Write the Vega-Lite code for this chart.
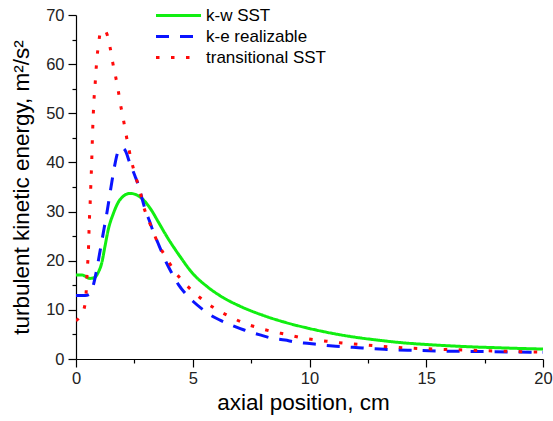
{
  "$schema": "https://vega.github.io/schema/vega-lite/v6.json",
  "autosize": "none",
  "width": 467,
  "height": 344,
  "padding": {"left": 76, "top": 15, "right": 10, "bottom": 62},
  "background": "white",
  "config": {
    "view": {"stroke": null},
    "font": "Liberation Sans",
    "axis": {
      "grid": false,
      "domainColor": "black",
      "domainWidth": 1.2,
      "tickColor": "black",
      "tickWidth": 1.2,
      "labelColor": "#222222",
      "labelFont": "Liberation Sans",
      "labelFontSize": 16.5,
      "titleFont": "Liberation Sans",
      "titleFontSize": 22.5,
      "titleFontWeight": "normal",
      "titleColor": "black"
    },
    "legend": {
      "labelFont": "Liberation Sans",
      "labelFontSize": 17,
      "labelColor": "black"
    }
  },
  "data": {
    "values": [
      {"x": 0, "y": 17.1, "model": "k-w SST"},
      {"x": 0.25, "y": 17.1, "model": "k-w SST"},
      {"x": 0.6, "y": 16.4, "model": "k-w SST"},
      {"x": 0.8, "y": 16.6, "model": "k-w SST"},
      {"x": 0.95, "y": 17.6, "model": "k-w SST"},
      {"x": 1.1, "y": 19.5, "model": "k-w SST"},
      {"x": 1.24, "y": 22.9, "model": "k-w SST"},
      {"x": 1.38, "y": 26.3, "model": "k-w SST"},
      {"x": 1.6, "y": 29.6, "model": "k-w SST"},
      {"x": 1.88, "y": 32.4, "model": "k-w SST"},
      {"x": 2.31, "y": 33.7, "model": "k-w SST"},
      {"x": 2.67, "y": 33.2, "model": "k-w SST"},
      {"x": 3.2, "y": 30.5, "model": "k-w SST"},
      {"x": 3.5, "y": 28.1, "model": "k-w SST"},
      {"x": 3.88, "y": 25.0, "model": "k-w SST"},
      {"x": 4.45, "y": 20.9, "model": "k-w SST"},
      {"x": 5.0, "y": 17.4, "model": "k-w SST"},
      {"x": 5.6, "y": 14.8, "model": "k-w SST"},
      {"x": 6.3, "y": 12.5, "model": "k-w SST"},
      {"x": 7.0, "y": 10.8, "model": "k-w SST"},
      {"x": 8.0, "y": 8.9, "model": "k-w SST"},
      {"x": 9.0, "y": 7.4, "model": "k-w SST"},
      {"x": 10.0, "y": 6.2, "model": "k-w SST"},
      {"x": 11.0, "y": 5.2, "model": "k-w SST"},
      {"x": 12.0, "y": 4.4, "model": "k-w SST"},
      {"x": 13.0, "y": 3.8, "model": "k-w SST"},
      {"x": 14.0, "y": 3.3, "model": "k-w SST"},
      {"x": 15.0, "y": 2.95, "model": "k-w SST"},
      {"x": 16.0, "y": 2.68, "model": "k-w SST"},
      {"x": 17.0, "y": 2.46, "model": "k-w SST"},
      {"x": 18.0, "y": 2.3, "model": "k-w SST"},
      {"x": 19.0, "y": 2.15, "model": "k-w SST"},
      {"x": 20, "y": 2.03, "model": "k-w SST"},

      {"x": 0, "y": 12.9, "model": "k-e realizable"},
      {"x": 0.39, "y": 12.9, "model": "k-e realizable"},
      {"x": 0.55, "y": 13.1, "model": "k-e realizable"},
      {"x": 0.74, "y": 15.0, "model": "k-e realizable"},
      {"x": 0.9, "y": 18.5, "model": "k-e realizable"},
      {"x": 1.05, "y": 22.5, "model": "k-e realizable"},
      {"x": 1.2, "y": 26.5, "model": "k-e realizable"},
      {"x": 1.35, "y": 30.5, "model": "k-e realizable"},
      {"x": 1.5, "y": 35.0, "model": "k-e realizable"},
      {"x": 1.65, "y": 39.2, "model": "k-e realizable"},
      {"x": 1.8, "y": 42.2, "model": "k-e realizable"},
      {"x": 1.95, "y": 43.0, "model": "k-e realizable"},
      {"x": 2.1, "y": 42.5, "model": "k-e realizable"},
      {"x": 2.31, "y": 39.8, "model": "k-e realizable"},
      {"x": 2.53, "y": 37.2, "model": "k-e realizable"},
      {"x": 2.67, "y": 35.4, "model": "k-e realizable"},
      {"x": 2.81, "y": 33.0, "model": "k-e realizable"},
      {"x": 2.95, "y": 30.6, "model": "k-e realizable"},
      {"x": 3.17, "y": 27.8, "model": "k-e realizable"},
      {"x": 3.31, "y": 25.9, "model": "k-e realizable"},
      {"x": 3.52, "y": 23.5, "model": "k-e realizable"},
      {"x": 3.67, "y": 21.8, "model": "k-e realizable"},
      {"x": 3.88, "y": 19.5, "model": "k-e realizable"},
      {"x": 4.1, "y": 17.5, "model": "k-e realizable"},
      {"x": 4.38, "y": 15.2, "model": "k-e realizable"},
      {"x": 4.67, "y": 13.4, "model": "k-e realizable"},
      {"x": 5.02, "y": 11.7, "model": "k-e realizable"},
      {"x": 5.45, "y": 10.0, "model": "k-e realizable"},
      {"x": 5.88, "y": 8.6, "model": "k-e realizable"},
      {"x": 6.17, "y": 7.9, "model": "k-e realizable"},
      {"x": 6.6, "y": 7.0, "model": "k-e realizable"},
      {"x": 7.2, "y": 5.9, "model": "k-e realizable"},
      {"x": 7.88, "y": 4.9, "model": "k-e realizable"},
      {"x": 8.38, "y": 4.25, "model": "k-e realizable"},
      {"x": 8.95, "y": 3.85, "model": "k-e realizable"},
      {"x": 9.38, "y": 3.45, "model": "k-e realizable"},
      {"x": 10.0, "y": 3.15, "model": "k-e realizable"},
      {"x": 10.45, "y": 2.9, "model": "k-e realizable"},
      {"x": 11.0, "y": 2.65, "model": "k-e realizable"},
      {"x": 11.5, "y": 2.5, "model": "k-e realizable"},
      {"x": 12.1, "y": 2.3, "model": "k-e realizable"},
      {"x": 12.5, "y": 2.17, "model": "k-e realizable"},
      {"x": 13.2, "y": 1.97, "model": "k-e realizable"},
      {"x": 13.6, "y": 1.87, "model": "k-e realizable"},
      {"x": 14.45, "y": 1.78, "model": "k-e realizable"},
      {"x": 15.52, "y": 1.63, "model": "k-e realizable"},
      {"x": 16.59, "y": 1.56, "model": "k-e realizable"},
      {"x": 17.62, "y": 1.49, "model": "k-e realizable"},
      {"x": 18.69, "y": 1.42, "model": "k-e realizable"},
      {"x": 20, "y": 1.35, "model": "k-e realizable"},

      {"x": 0, "y": 7.8, "model": "transitional SST"},
      {"x": 0.2, "y": 8.8, "model": "transitional SST"},
      {"x": 0.36, "y": 10.5, "model": "transitional SST"},
      {"x": 0.43, "y": 13.2, "model": "transitional SST"},
      {"x": 0.46, "y": 16.1, "model": "transitional SST"},
      {"x": 0.49, "y": 18.8, "model": "transitional SST"},
      {"x": 0.53, "y": 21.8, "model": "transitional SST"},
      {"x": 0.55, "y": 24.9, "model": "transitional SST"},
      {"x": 0.57, "y": 27.9, "model": "transitional SST"},
      {"x": 0.6, "y": 31.0, "model": "transitional SST"},
      {"x": 0.63, "y": 34.7, "model": "transitional SST"},
      {"x": 0.67, "y": 39.8, "model": "transitional SST"},
      {"x": 0.71, "y": 46.0, "model": "transitional SST"},
      {"x": 0.76, "y": 51.9, "model": "transitional SST"},
      {"x": 0.82, "y": 56.0, "model": "transitional SST"},
      {"x": 0.89, "y": 60.8, "model": "transitional SST"},
      {"x": 0.96, "y": 63.9, "model": "transitional SST"},
      {"x": 1.05, "y": 66.5, "model": "transitional SST"},
      {"x": 1.18, "y": 67.0, "model": "transitional SST"},
      {"x": 1.31, "y": 66.3, "model": "transitional SST"},
      {"x": 1.46, "y": 63.4, "model": "transitional SST"},
      {"x": 1.57, "y": 60.4, "model": "transitional SST"},
      {"x": 1.7, "y": 57.4, "model": "transitional SST"},
      {"x": 1.81, "y": 54.6, "model": "transitional SST"},
      {"x": 1.91, "y": 51.7, "model": "transitional SST"},
      {"x": 2.02, "y": 49.0, "model": "transitional SST"},
      {"x": 2.14, "y": 45.8, "model": "transitional SST"},
      {"x": 2.38, "y": 40.2, "model": "transitional SST"},
      {"x": 2.6, "y": 36.4, "model": "transitional SST"},
      {"x": 2.74, "y": 34.2, "model": "transitional SST"},
      {"x": 2.88, "y": 31.3, "model": "transitional SST"},
      {"x": 3.1, "y": 28.4, "model": "transitional SST"},
      {"x": 3.31, "y": 25.8, "model": "transitional SST"},
      {"x": 3.55, "y": 23.2, "model": "transitional SST"},
      {"x": 3.88, "y": 20.5, "model": "transitional SST"},
      {"x": 4.2, "y": 18.0, "model": "transitional SST"},
      {"x": 4.6, "y": 15.7, "model": "transitional SST"},
      {"x": 5.02, "y": 13.7, "model": "transitional SST"},
      {"x": 5.52, "y": 11.7, "model": "transitional SST"},
      {"x": 6.05, "y": 10.0, "model": "transitional SST"},
      {"x": 6.6, "y": 8.6, "model": "transitional SST"},
      {"x": 7.2, "y": 7.3, "model": "transitional SST"},
      {"x": 7.88, "y": 6.25, "model": "transitional SST"},
      {"x": 8.42, "y": 5.56, "model": "transitional SST"},
      {"x": 9.02, "y": 5.0, "model": "transitional SST"},
      {"x": 9.64, "y": 4.34, "model": "transitional SST"},
      {"x": 10.28, "y": 3.87, "model": "transitional SST"},
      {"x": 10.88, "y": 3.53, "model": "transitional SST"},
      {"x": 11.52, "y": 3.19, "model": "transitional SST"},
      {"x": 12.13, "y": 2.98, "model": "transitional SST"},
      {"x": 12.78, "y": 2.71, "model": "transitional SST"},
      {"x": 13.37, "y": 2.5, "model": "transitional SST"},
      {"x": 14.02, "y": 2.3, "model": "transitional SST"},
      {"x": 15.3, "y": 2.03, "model": "transitional SST"},
      {"x": 16.59, "y": 1.83, "model": "transitional SST"},
      {"x": 17.87, "y": 1.63, "model": "transitional SST"},
      {"x": 19.09, "y": 1.49, "model": "transitional SST"},
      {"x": 20, "y": 1.42, "model": "transitional SST"}
    ]
  },
  "mark": {"type": "line", "strokeWidth": 3, "interpolate": "monotone", "clip": true},
  "encoding": {
    "x": {
      "field": "x",
      "type": "quantitative",
      "scale": {"domain": [0, 20], "nice": false, "zero": false},
      "axis": {
        "title": "axial position, cm",
        "values": [0, 2.5, 5, 7.5, 10, 12.5, 15, 17.5, 20],
        "labelExpr": "datum.value % 5 == 0 ? datum.label : ''",
        "tickSize": {"condition": {"test": "datum.value % 5 == 0", "value": 8}, "value": 4},
        "labelPadding": 3,
        "titlePadding": 5,
        "titleX": 227,
        "labelFlush": false
      }
    },
    "y": {
      "field": "y",
      "type": "quantitative",
      "scale": {"domain": [0, 70], "nice": false},
      "axis": {
        "title": "turbulent kinetic energy, m²/s²",
        "values": [0, 5, 10, 15, 20, 25, 30, 35, 40, 45, 50, 55, 60, 65, 70],
        "labelExpr": "datum.value % 10 == 0 ? datum.label : ''",
        "tickSize": {"condition": {"test": "datum.value % 10 == 0", "value": 8}, "value": 4},
        "labelPadding": 4,
        "titlePadding": 12,
        "labelFlush": false
      }
    },
    "color": {
      "field": "model",
      "type": "nominal",
      "scale": {"domain": ["k-w SST", "k-e realizable", "transitional SST"], "range": ["#11ee11", "#0a14ff", "#ff0a0a"]},
      "legend": {
        "title": null,
        "orient": "none",
        "legendX": 94,
        "legendY": -8,
        "symbolType": "M-4.5,0L4.5,0",
        "symbolSize": 100,
        "symbolStrokeWidth": 3,
        "rowPadding": 3,
        "labelOffset": 19
      }
    },
    "strokeDash": {
      "field": "model",
      "type": "nominal",
      "scale": {"domain": ["k-w SST", "k-e realizable", "transitional SST"], "range": [[1, 0], [13, 11], [3.5, 11.5]]},
      "legend": {
        "title": null,
        "orient": "none",
        "legendX": 94,
        "legendY": -8,
        "symbolType": "M-4.5,0L4.5,0",
        "symbolSize": 100,
        "symbolStrokeWidth": 3,
        "rowPadding": 3,
        "labelOffset": 19
      }
    }
  }
}
